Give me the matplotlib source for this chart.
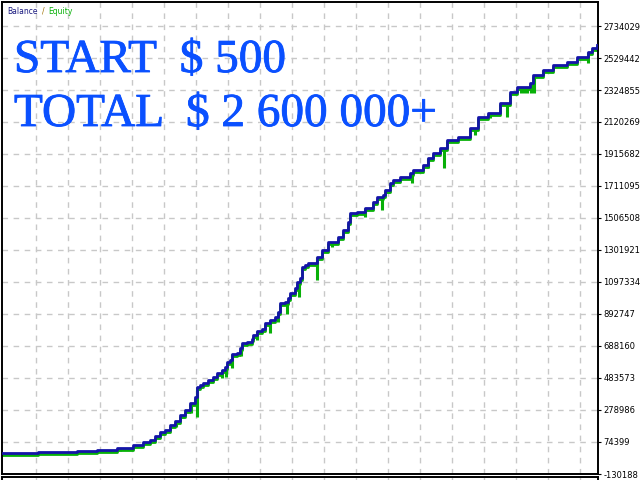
import numpy as np
import matplotlib
matplotlib.use("Agg")
import matplotlib.pyplot as plt
import matplotlib.transforms as mtransforms
import matplotlib.patheffects as pe

# balance curve (trade number, balance in $)
trade = [1, 36, 75, 95, 115, 131, 141, 148, 153, 158, 163, 168, 173, 178, 183,
         188, 193, 195, 198, 201, 206, 211, 215, 220, 223, 225, 228, 230, 235,
         238, 240, 245, 250, 251, 255, 260, 263, 268, 273, 276, 278, 283, 286,
         288, 293, 295, 298, 300, 303, 306, 315, 320, 326, 336, 341, 346, 348,
         355, 363, 371, 375, 381, 383, 388, 391, 398, 408, 411, 421, 426, 431,
         438, 445, 456, 468, 476, 486, 498, 508, 515, 528, 531, 541, 551, 565,
         575, 586, 590, 595]
balance = [4000, 10000, 17000, 23000, 36000, 55000, 74000, 87000, 113000,
           138000, 151000, 183000, 209000, 247000, 279000, 324000, 362000,
           426000, 439000, 452000, 471000, 490000, 516000, 535000, 554000,
           586000, 599000, 637000, 643000, 675000, 707000, 714000, 733000,
           758000, 784000, 797000, 835000, 854000, 874000, 906000, 963000,
           970000, 995000, 1027000, 1059000, 1097000, 1123000, 1193000,
           1206000, 1219000, 1257000, 1302000, 1353000, 1385000, 1430000,
           1481000, 1538000, 1545000, 1570000, 1609000, 1641000, 1654000,
           1686000, 1730000, 1749000, 1769000, 1794000, 1813000, 1845000,
           1890000, 1922000, 1954000, 2005000, 2024000, 2082000, 2152000,
           2178000, 2242000, 2312000, 2344000, 2370000, 2421000, 2453000,
           2485000, 2504000, 2536000, 2568000, 2593000, 2613000]

# equity drawdowns (trade number, lowest equity)
dd_trade = [108, 118, 145, 166, 174, 181, 189, 195, 220, 224, 230, 239, 255,
            268, 276, 285, 297, 315, 330, 363, 370, 380, 386, 410, 426, 442,
            473, 488, 505, 519, 522, 525, 529, 532, 541, 586]
dd_low = [8000, 15000, 62000, 145000, 170000, 228000, 260000, 234000, 484000,
          490000, 548000, 624000, 727000, 771000, 842000, 893000, 1001000,
          1110000, 1321000, 1513000, 1577000, 1558000, 1666000, 1730000,
          1826000, 1826000, 2037000, 2146000, 2152000, 2306000, 2306000,
          2306000, 2306000, 2306000, 2421000, 2498000]

yticks = [-130188, 74399, 278986, 483573, 688160, 892747, 1097334, 1301921,
          1506508, 1711095, 1915682, 2120269, 2324855, 2529442, 2734029]
ytick_labels = [str(v) for v in yticks]

blue = "#1414a8"
green = "#08b008"
grid_c = "#c8c8c8"

fig = plt.figure(figsize=(6.4, 4.8), dpi=100)
ax = fig.add_axes([2 / 640, 6 / 480, 596 / 640, 472 / 480])

step = yticks[1] - yticks[0]
ax.set_ylim(yticks[0], yticks[-1] + step * 24 / 32)
ax.set_xlim(0, 596)

xgrid = np.arange(33.5, 596, 32)
ax.set_xticks(xgrid)
ax.set_yticks(yticks)
ax.set_yticklabels(ytick_labels)
ax.grid(True, color=grid_c, linestyle=(0, (4, 4)), linewidth=1)
ax.set_axisbelow(True)
ax.tick_params(axis="x", length=0, labelbottom=False)
ax.tick_params(axis="y", left=False, labelleft=False, right=True,
               labelright=True, length=2.5, width=0.8, pad=1.5,
               labelsize=6, colors="black")

for s in ax.spines.values():
    s.set_linewidth(1.4)

# equity: drawdown spikes and the line just under the balance
bal_at = [balance[np.searchsorted(trade, t, side="right") - 1] for t in dd_trade]
ax.vlines(dd_trade, dd_low, bal_at, color=green, linewidth=2.2, zorder=2)
shift = mtransforms.offset_copy(ax.transData, fig=fig, x=0, y=-2, units="dots")
ax.step(trade, balance, where="post", color=green, linewidth=2.0,
        transform=shift, zorder=2)
ax.step(trade, balance, where="post", color=blue, linewidth=2.0, zorder=3)

# title
ax.text(5 / 596, 1 - 9 / 472, "Balance", color="#1a1a80", fontsize=5.5,
        transform=ax.transAxes, va="center", ha="left")
ax.text(40 / 596, 1 - 9 / 472, "/", color="#a07000", fontsize=5.5,
        transform=ax.transAxes, va="center", ha="left")
ax.text(46 / 596, 1 - 9 / 472, "Equity", color=green, fontsize=5.5,
        transform=ax.transAxes, va="center", ha="left")

txt_c = "#0a50ff"
thick = [pe.withStroke(linewidth=0.6, foreground=txt_c)]
fig.text(14 / 640, 1 - 72 / 480, "START  $ 500", color=txt_c, fontsize=34,
         family="Liberation Serif", va="baseline", ha="left",
         path_effects=thick)
fig.text(14 / 640, 1 - 126 / 480, "TOTAL  $ 2 600 000+", color=txt_c,
         fontsize=34, family="Liberation Serif", va="baseline", ha="left",
         path_effects=thick)

# lower panel edge
ax2 = fig.add_axes([2 / 640, -10 / 480, 596 / 640, 13 / 480])
ax2.set_xlim(0, 596)
ax2.set_xticks(xgrid)
ax2.set_yticks([])
ax2.grid(True, axis="x", color=grid_c, linestyle=(0, (4, 4)), linewidth=1)
ax2.tick_params(axis="x", length=0, labelbottom=False)
for s in ax2.spines.values():
    s.set_linewidth(1.4)

fig.savefig("out.png", dpi=100)
